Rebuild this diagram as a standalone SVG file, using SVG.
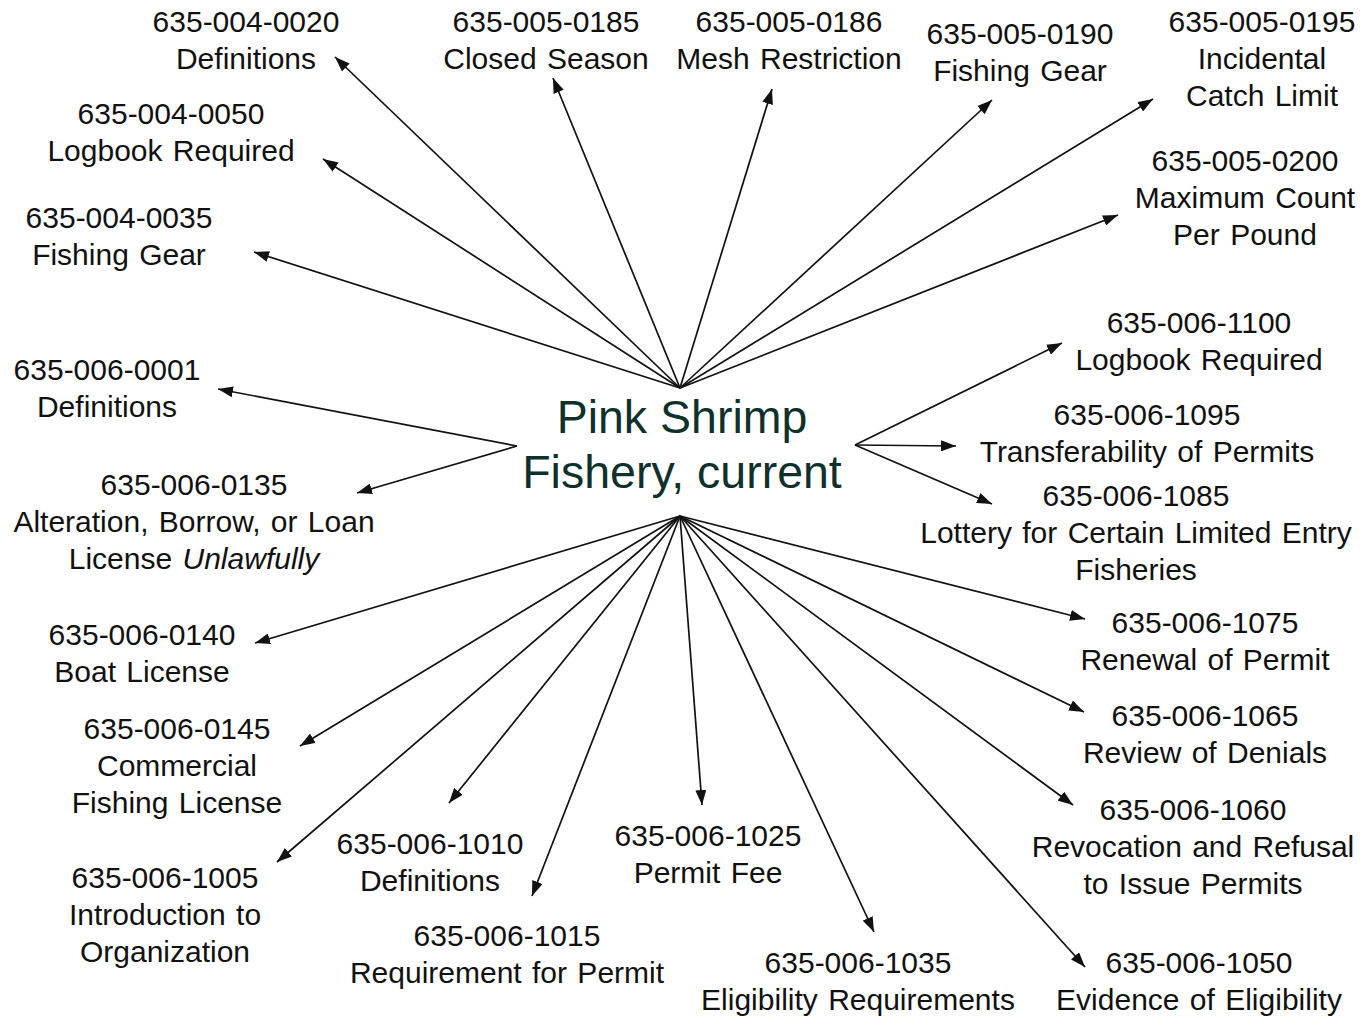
<svg xmlns="http://www.w3.org/2000/svg" width="1363" height="1016" viewBox="0 0 1363 1016">
<style>
.lbl{font-family:"Liberation Sans",Arial,sans-serif;font-size:30px;text-anchor:middle;word-spacing:2px;fill:#111}
.title{font-family:"Liberation Sans",Arial,sans-serif;font-size:46.5px;text-anchor:middle;fill:#10302b}
.c{stroke:#111;stroke-width:1.7;fill:none;marker-end:url(#ah)}
</style>
<defs>
<marker id="ah" markerUnits="userSpaceOnUse" markerWidth="15" markerHeight="11" refX="15" refY="5.5" orient="auto">
<path d="M0,0 L15,5.5 L0,11 z" fill="#111"/>
</marker>
</defs>
<rect width="1363" height="1016" fill="#fff"/>
<g id="center">
<text class="title" x="682" y="433">Pink Shrimp</text>
<text class="title" x="682" y="488">Fishery, current</text>
</g>
<g id="connectors">
<line class="c" x1="680" y1="388" x2="335" y2="57"/>
<line class="c" x1="680" y1="388" x2="323" y2="159"/>
<line class="c" x1="680" y1="388" x2="254" y2="252"/>
<line class="c" x1="680" y1="388" x2="553" y2="78"/>
<line class="c" x1="680" y1="388" x2="772" y2="89"/>
<line class="c" x1="680" y1="388" x2="992" y2="100"/>
<line class="c" x1="680" y1="388" x2="1153" y2="99"/>
<line class="c" x1="680" y1="388" x2="1118" y2="215"/>
<line class="c" x1="517" y1="446" x2="218" y2="389"/>
<line class="c" x1="517" y1="446" x2="357" y2="493"/>
<line class="c" x1="855" y1="445" x2="1062" y2="343"/>
<line class="c" x1="855" y1="445" x2="956" y2="446"/>
<line class="c" x1="855" y1="445" x2="992" y2="504"/>
<line class="c" x1="680" y1="516" x2="255" y2="643"/>
<line class="c" x1="680" y1="516" x2="300" y2="746"/>
<line class="c" x1="680" y1="516" x2="277" y2="862"/>
<line class="c" x1="680" y1="516" x2="449" y2="803"/>
<line class="c" x1="680" y1="516" x2="532" y2="896"/>
<line class="c" x1="680" y1="516" x2="702" y2="805"/>
<line class="c" x1="680" y1="516" x2="874" y2="932"/>
<line class="c" x1="680" y1="516" x2="1085" y2="967"/>
<line class="c" x1="680" y1="516" x2="1073" y2="805"/>
<line class="c" x1="680" y1="516" x2="1084" y2="712"/>
<line class="c" x1="680" y1="516" x2="1085" y2="619"/>
</g>
<g id="n-004-0020"><text class="lbl" x="246" y="32">635-004-0020</text><text class="lbl" x="246" y="69">Definitions</text></g>
<g id="n-004-0050"><text class="lbl" x="171" y="124">635-004-0050</text><text class="lbl" x="171" y="161">Logbook Required</text></g>
<g id="n-004-0035"><text class="lbl" x="119" y="228">635-004-0035</text><text class="lbl" x="119" y="265">Fishing Gear</text></g>
<g id="n-005-0185"><text class="lbl" x="546" y="32">635-005-0185</text><text class="lbl" x="546" y="69">Closed Season</text></g>
<g id="n-005-0186"><text class="lbl" x="789" y="32">635-005-0186</text><text class="lbl" x="789" y="69">Mesh Restriction</text></g>
<g id="n-005-0190"><text class="lbl" x="1020" y="44">635-005-0190</text><text class="lbl" x="1020" y="81">Fishing Gear</text></g>
<g id="n-005-0195"><text class="lbl" x="1262" y="32">635-005-0195</text><text class="lbl" x="1262" y="69">Incidental</text><text class="lbl" x="1262" y="106">Catch Limit</text></g>
<g id="n-005-0200"><text class="lbl" x="1245" y="171">635-005-0200</text><text class="lbl" x="1245" y="208">Maximum Count</text><text class="lbl" x="1245" y="245">Per Pound</text></g>
<g id="n-006-0001"><text class="lbl" x="107" y="380">635-006-0001</text><text class="lbl" x="107" y="417">Definitions</text></g>
<g id="n-006-0135"><text class="lbl" x="194" y="495">635-006-0135</text><text class="lbl" x="194" y="532">Alteration, Borrow, or Loan</text><text class="lbl" x="194" y="569">License <tspan font-style="italic">Unlawfully</tspan></text></g>
<g id="n-006-1100"><text class="lbl" x="1199" y="333">635-006-1100</text><text class="lbl" x="1199" y="370">Logbook Required</text></g>
<g id="n-006-1095"><text class="lbl" x="1147" y="425">635-006-1095</text><text class="lbl" x="1147" y="462">Transferability of Permits</text></g>
<g id="n-006-1085"><text class="lbl" x="1136" y="506">635-006-1085</text><text class="lbl" x="1136" y="543">Lottery for Certain Limited Entry</text><text class="lbl" x="1136" y="580">Fisheries</text></g>
<g id="n-006-1075"><text class="lbl" x="1205" y="633">635-006-1075</text><text class="lbl" x="1205" y="670">Renewal of Permit</text></g>
<g id="n-006-1065"><text class="lbl" x="1205" y="726">635-006-1065</text><text class="lbl" x="1205" y="763">Review of Denials</text></g>
<g id="n-006-1060"><text class="lbl" x="1193" y="820">635-006-1060</text><text class="lbl" x="1193" y="857">Revocation and Refusal</text><text class="lbl" x="1193" y="894">to Issue Permits</text></g>
<g id="n-006-1050"><text class="lbl" x="1199" y="973">635-006-1050</text><text class="lbl" x="1199" y="1010">Evidence of Eligibility</text></g>
<g id="n-006-1035"><text class="lbl" x="858" y="973">635-006-1035</text><text class="lbl" x="858" y="1010">Eligibility Requirements</text></g>
<g id="n-006-1025"><text class="lbl" x="708" y="846">635-006-1025</text><text class="lbl" x="708" y="883">Permit Fee</text></g>
<g id="n-006-1015"><text class="lbl" x="507" y="946">635-006-1015</text><text class="lbl" x="507" y="983">Requirement for Permit</text></g>
<g id="n-006-1010"><text class="lbl" x="430" y="854">635-006-1010</text><text class="lbl" x="430" y="891">Definitions</text></g>
<g id="n-006-1005"><text class="lbl" x="165" y="888">635-006-1005</text><text class="lbl" x="165" y="925">Introduction to</text><text class="lbl" x="165" y="962">Organization</text></g>
<g id="n-006-0145"><text class="lbl" x="177" y="739">635-006-0145</text><text class="lbl" x="177" y="776">Commercial</text><text class="lbl" x="177" y="813">Fishing License</text></g>
<g id="n-006-0140"><text class="lbl" x="142" y="645">635-006-0140</text><text class="lbl" x="142" y="682">Boat License</text></g>
</svg>
